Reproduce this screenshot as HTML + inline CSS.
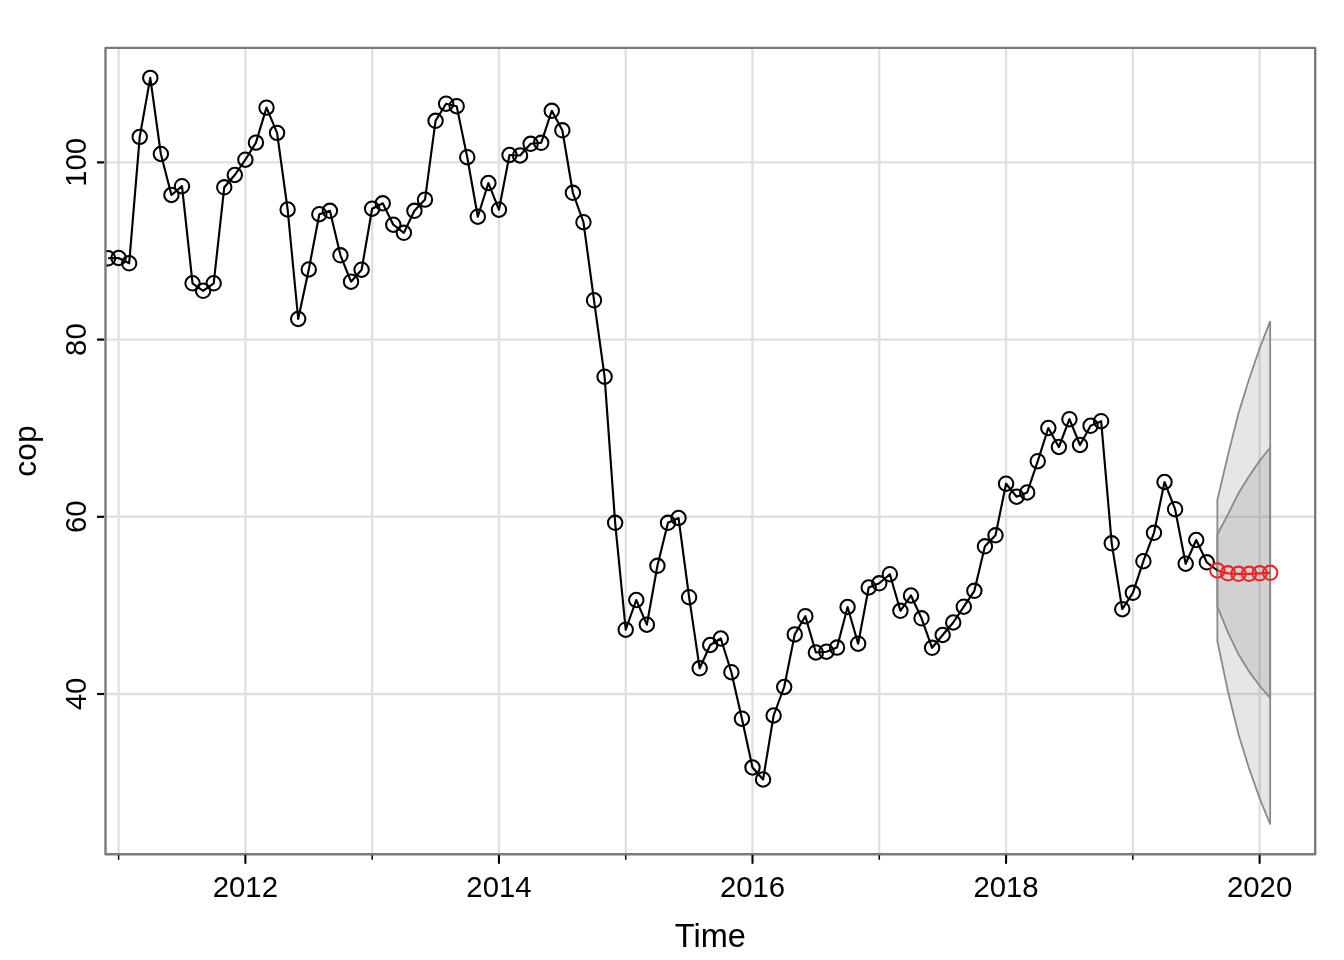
<!DOCTYPE html><html><head><meta charset="utf-8"><style>html,body{margin:0;padding:0;background:#fff;width:1344px;height:960px;overflow:hidden}svg{display:block;will-change:transform}text{font-family:"Liberation Sans",sans-serif}</style></head><body><svg width="1344" height="960" viewBox="0 0 1344 960">
<rect x="0" y="0" width="1344" height="960" fill="#fff"/>
<defs><clipPath id="pc"><rect x="105.50" y="47.90" width="1209.70" height="806.30"/></clipPath></defs>
<g stroke="#e0e0e0" stroke-width="2.4"><line x1="118.60" y1="47.90" x2="118.60" y2="854.20"/><line x1="245.38" y1="47.90" x2="245.38" y2="854.20"/><line x1="372.16" y1="47.90" x2="372.16" y2="854.20"/><line x1="498.94" y1="47.90" x2="498.94" y2="854.20"/><line x1="625.72" y1="47.90" x2="625.72" y2="854.20"/><line x1="752.50" y1="47.90" x2="752.50" y2="854.20"/><line x1="879.28" y1="47.90" x2="879.28" y2="854.20"/><line x1="1006.06" y1="47.90" x2="1006.06" y2="854.20"/><line x1="1132.84" y1="47.90" x2="1132.84" y2="854.20"/><line x1="1259.62" y1="47.90" x2="1259.62" y2="854.20"/><line x1="105.50" y1="694.00" x2="1315.20" y2="694.00"/><line x1="105.50" y1="516.80" x2="1315.20" y2="516.80"/><line x1="105.50" y1="339.60" x2="1315.20" y2="339.60"/><line x1="105.50" y1="162.40" x2="1315.20" y2="162.40"/></g>
<g clip-path="url(#pc)">
<polygon points="1217.36,499.90 1227.92,455.30 1238.49,413.30 1249.05,379.20 1259.62,348.30 1270.18,321.20 1270.18,824.40 1259.62,798.30 1249.05,768.40 1238.49,734.30 1227.92,691.30 1217.36,641.10" fill="#747474" fill-opacity="0.18" stroke="#8a8a8a" stroke-width="1.8"/>
<polygon points="1217.36,534.50 1227.92,514.30 1238.49,493.30 1249.05,476.20 1259.62,460.80 1270.18,447.50 1270.18,698.10 1259.62,685.80 1249.05,671.40 1238.49,654.30 1227.92,632.30 1217.36,606.50" fill="#747474" fill-opacity="0.18" stroke="#8a8a8a" stroke-width="1.8"/>
<polyline points="108.03,258.30 118.60,258.00 129.16,263.30 139.73,136.90 150.29,77.90 160.86,154.00 171.42,195.00 181.99,186.20 192.56,283.30 203.12,290.80 213.69,283.30 224.25,187.30 234.81,175.00 245.38,159.70 255.94,142.60 266.51,107.60 277.07,132.90 287.64,209.50 298.20,319.00 308.77,269.50 319.33,214.20 329.90,210.80 340.46,255.30 351.03,281.70 361.59,269.70 372.16,208.70 382.73,203.30 393.29,224.70 403.86,232.80 414.42,210.80 424.99,199.60 435.55,120.80 446.12,103.70 456.68,106.20 467.25,157.20 477.81,216.70 488.38,183.00 498.94,209.70 509.50,155.00 520.07,155.50 530.63,143.80 541.20,142.80 551.76,110.80 562.33,130.30 572.89,192.80 583.46,222.20 594.02,300.30 604.59,376.70 615.15,522.80 625.72,629.70 636.28,600.00 646.85,624.70 657.41,565.80 667.98,522.80 678.54,518.00 689.11,597.20 699.67,668.30 710.24,645.00 720.80,638.50 731.37,672.20 741.93,718.70 752.50,767.50 763.06,779.50 773.63,715.50 784.19,687.00 794.76,634.40 805.33,616.20 815.89,652.50 826.46,651.70 837.02,647.60 847.59,607.00 858.15,643.70 868.72,587.50 879.28,583.30 889.85,574.20 900.41,610.80 910.98,595.50 921.54,618.30 932.11,647.80 942.67,635.00 953.24,622.50 963.80,606.70 974.37,590.80 984.93,546.30 995.50,535.30 1006.06,483.70 1016.62,496.70 1027.19,492.50 1037.75,461.20 1048.32,428.00 1058.88,447.00 1069.45,419.20 1080.01,445.00 1090.58,425.80 1101.14,421.20 1111.71,543.30 1122.27,609.20 1132.84,592.80 1143.40,561.20 1153.97,532.80 1164.53,482.00 1175.10,509.20 1185.66,563.70 1196.23,540.00 1206.79,562.30 1217.36,570.50" fill="none" stroke="#000" stroke-width="2.15" stroke-linejoin="round"/>
<g fill="none" stroke="#000" stroke-width="2.05"><circle cx="108.03" cy="258.30" r="7.2"/><circle cx="118.60" cy="258.00" r="7.2"/><circle cx="129.16" cy="263.30" r="7.2"/><circle cx="139.73" cy="136.90" r="7.2"/><circle cx="150.29" cy="77.90" r="7.2"/><circle cx="160.86" cy="154.00" r="7.2"/><circle cx="171.42" cy="195.00" r="7.2"/><circle cx="181.99" cy="186.20" r="7.2"/><circle cx="192.56" cy="283.30" r="7.2"/><circle cx="203.12" cy="290.80" r="7.2"/><circle cx="213.69" cy="283.30" r="7.2"/><circle cx="224.25" cy="187.30" r="7.2"/><circle cx="234.81" cy="175.00" r="7.2"/><circle cx="245.38" cy="159.70" r="7.2"/><circle cx="255.94" cy="142.60" r="7.2"/><circle cx="266.51" cy="107.60" r="7.2"/><circle cx="277.07" cy="132.90" r="7.2"/><circle cx="287.64" cy="209.50" r="7.2"/><circle cx="298.20" cy="319.00" r="7.2"/><circle cx="308.77" cy="269.50" r="7.2"/><circle cx="319.33" cy="214.20" r="7.2"/><circle cx="329.90" cy="210.80" r="7.2"/><circle cx="340.46" cy="255.30" r="7.2"/><circle cx="351.03" cy="281.70" r="7.2"/><circle cx="361.59" cy="269.70" r="7.2"/><circle cx="372.16" cy="208.70" r="7.2"/><circle cx="382.73" cy="203.30" r="7.2"/><circle cx="393.29" cy="224.70" r="7.2"/><circle cx="403.86" cy="232.80" r="7.2"/><circle cx="414.42" cy="210.80" r="7.2"/><circle cx="424.99" cy="199.60" r="7.2"/><circle cx="435.55" cy="120.80" r="7.2"/><circle cx="446.12" cy="103.70" r="7.2"/><circle cx="456.68" cy="106.20" r="7.2"/><circle cx="467.25" cy="157.20" r="7.2"/><circle cx="477.81" cy="216.70" r="7.2"/><circle cx="488.38" cy="183.00" r="7.2"/><circle cx="498.94" cy="209.70" r="7.2"/><circle cx="509.50" cy="155.00" r="7.2"/><circle cx="520.07" cy="155.50" r="7.2"/><circle cx="530.63" cy="143.80" r="7.2"/><circle cx="541.20" cy="142.80" r="7.2"/><circle cx="551.76" cy="110.80" r="7.2"/><circle cx="562.33" cy="130.30" r="7.2"/><circle cx="572.89" cy="192.80" r="7.2"/><circle cx="583.46" cy="222.20" r="7.2"/><circle cx="594.02" cy="300.30" r="7.2"/><circle cx="604.59" cy="376.70" r="7.2"/><circle cx="615.15" cy="522.80" r="7.2"/><circle cx="625.72" cy="629.70" r="7.2"/><circle cx="636.28" cy="600.00" r="7.2"/><circle cx="646.85" cy="624.70" r="7.2"/><circle cx="657.41" cy="565.80" r="7.2"/><circle cx="667.98" cy="522.80" r="7.2"/><circle cx="678.54" cy="518.00" r="7.2"/><circle cx="689.11" cy="597.20" r="7.2"/><circle cx="699.67" cy="668.30" r="7.2"/><circle cx="710.24" cy="645.00" r="7.2"/><circle cx="720.80" cy="638.50" r="7.2"/><circle cx="731.37" cy="672.20" r="7.2"/><circle cx="741.93" cy="718.70" r="7.2"/><circle cx="752.50" cy="767.50" r="7.2"/><circle cx="763.06" cy="779.50" r="7.2"/><circle cx="773.63" cy="715.50" r="7.2"/><circle cx="784.19" cy="687.00" r="7.2"/><circle cx="794.76" cy="634.40" r="7.2"/><circle cx="805.33" cy="616.20" r="7.2"/><circle cx="815.89" cy="652.50" r="7.2"/><circle cx="826.46" cy="651.70" r="7.2"/><circle cx="837.02" cy="647.60" r="7.2"/><circle cx="847.59" cy="607.00" r="7.2"/><circle cx="858.15" cy="643.70" r="7.2"/><circle cx="868.72" cy="587.50" r="7.2"/><circle cx="879.28" cy="583.30" r="7.2"/><circle cx="889.85" cy="574.20" r="7.2"/><circle cx="900.41" cy="610.80" r="7.2"/><circle cx="910.98" cy="595.50" r="7.2"/><circle cx="921.54" cy="618.30" r="7.2"/><circle cx="932.11" cy="647.80" r="7.2"/><circle cx="942.67" cy="635.00" r="7.2"/><circle cx="953.24" cy="622.50" r="7.2"/><circle cx="963.80" cy="606.70" r="7.2"/><circle cx="974.37" cy="590.80" r="7.2"/><circle cx="984.93" cy="546.30" r="7.2"/><circle cx="995.50" cy="535.30" r="7.2"/><circle cx="1006.06" cy="483.70" r="7.2"/><circle cx="1016.62" cy="496.70" r="7.2"/><circle cx="1027.19" cy="492.50" r="7.2"/><circle cx="1037.75" cy="461.20" r="7.2"/><circle cx="1048.32" cy="428.00" r="7.2"/><circle cx="1058.88" cy="447.00" r="7.2"/><circle cx="1069.45" cy="419.20" r="7.2"/><circle cx="1080.01" cy="445.00" r="7.2"/><circle cx="1090.58" cy="425.80" r="7.2"/><circle cx="1101.14" cy="421.20" r="7.2"/><circle cx="1111.71" cy="543.30" r="7.2"/><circle cx="1122.27" cy="609.20" r="7.2"/><circle cx="1132.84" cy="592.80" r="7.2"/><circle cx="1143.40" cy="561.20" r="7.2"/><circle cx="1153.97" cy="532.80" r="7.2"/><circle cx="1164.53" cy="482.00" r="7.2"/><circle cx="1175.10" cy="509.20" r="7.2"/><circle cx="1185.66" cy="563.70" r="7.2"/><circle cx="1196.23" cy="540.00" r="7.2"/><circle cx="1206.79" cy="562.30" r="7.2"/></g>
<polyline points="1217.36,570.50 1227.92,573.30 1238.49,573.80 1249.05,573.80 1259.62,573.30 1270.18,572.80" fill="none" stroke="#ee2424" stroke-width="2.2"/>
<g fill="none" stroke="#ee2424" stroke-width="2.05"><circle cx="1217.36" cy="570.50" r="7.2"/><circle cx="1227.92" cy="573.30" r="7.2"/><circle cx="1238.49" cy="573.80" r="7.2"/><circle cx="1249.05" cy="573.80" r="7.2"/><circle cx="1259.62" cy="573.30" r="7.2"/><circle cx="1270.18" cy="572.80" r="7.2"/></g>
</g>
<rect x="105.50" y="47.90" width="1209.70" height="806.30" fill="none" stroke="#7a7a7a" stroke-width="2.4" stroke-linejoin="round"/>
<g stroke="#000"><line x1="118.60" y1="855.70" x2="118.60" y2="859.2" stroke-width="1.5" stroke-linecap="round"/><line x1="245.38" y1="855.70" x2="245.38" y2="863" stroke-width="2.1" stroke-linecap="round"/><line x1="372.16" y1="855.70" x2="372.16" y2="859.2" stroke-width="1.5" stroke-linecap="round"/><line x1="498.94" y1="855.70" x2="498.94" y2="863" stroke-width="2.1" stroke-linecap="round"/><line x1="625.72" y1="855.70" x2="625.72" y2="859.2" stroke-width="1.5" stroke-linecap="round"/><line x1="752.50" y1="855.70" x2="752.50" y2="863" stroke-width="2.1" stroke-linecap="round"/><line x1="879.28" y1="855.70" x2="879.28" y2="859.2" stroke-width="1.5" stroke-linecap="round"/><line x1="1006.06" y1="855.70" x2="1006.06" y2="863" stroke-width="2.1" stroke-linecap="round"/><line x1="1132.84" y1="855.70" x2="1132.84" y2="859.2" stroke-width="1.5" stroke-linecap="round"/><line x1="1259.62" y1="855.70" x2="1259.62" y2="863" stroke-width="2.1" stroke-linecap="round"/><line x1="97" y1="694.00" x2="104.10" y2="694.00" stroke-width="2.2"/><line x1="97" y1="516.80" x2="104.10" y2="516.80" stroke-width="2.2"/><line x1="97" y1="339.60" x2="104.10" y2="339.60" stroke-width="2.2"/><line x1="97" y1="162.40" x2="104.10" y2="162.40" stroke-width="2.2"/></g>
<g fill="#000" font-family="Liberation Sans, sans-serif"><text x="245.38" y="897.2" text-anchor="middle" font-size="29.3">2012</text><text x="498.94" y="897.2" text-anchor="middle" font-size="29.3">2014</text><text x="752.50" y="897.2" text-anchor="middle" font-size="29.3">2016</text><text x="1006.06" y="897.2" text-anchor="middle" font-size="29.3">2018</text><text x="1259.62" y="897.2" text-anchor="middle" font-size="29.3">2020</text><text transform="translate(86.3,694.00) rotate(-90)" text-anchor="middle" font-size="29.3">40</text><text transform="translate(86.3,516.80) rotate(-90)" text-anchor="middle" font-size="29.3">60</text><text transform="translate(86.3,339.60) rotate(-90)" text-anchor="middle" font-size="29.3">80</text><text transform="translate(86.3,162.40) rotate(-90)" text-anchor="middle" font-size="29.3">100</text><text x="710.3" y="946.9" text-anchor="middle" font-size="32.5">Time</text><text transform="translate(36.3,451.05) rotate(-90)" text-anchor="middle" font-size="31.8">cop</text></g>
</svg></body></html>
